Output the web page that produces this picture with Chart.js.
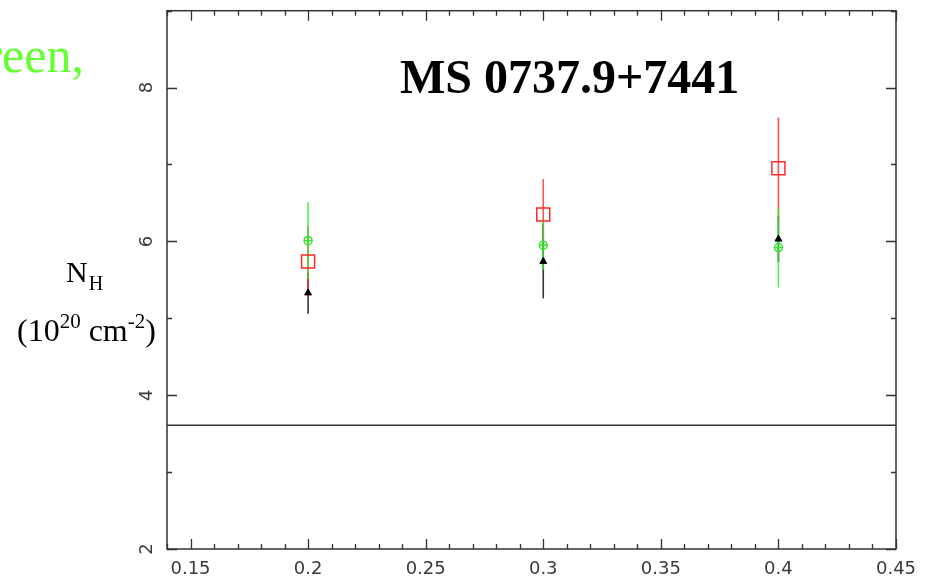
<!DOCTYPE html>
<html>
<head>
<meta charset="utf-8">
<script src="https://cdn.jsdelivr.net/npm/chart.js@4/dist/chart.umd.min.js"></script>
<style>
  html, body { margin: 0; padding: 0; background: #ffffff; }
  #wrap { width: 927px; height: 580px; position: relative; }
</style>
</head>
<body>
<div id="wrap"><canvas id="c" width="927" height="580"></canvas></div>
<script>
// Redshift bins and fitted column densities (10^20 cm^-2), with 1-sigma errors
const redshifts = [0.2, 0.3, 0.4];
const nhBlack = [5.33, 5.74, 6.03];
const errBlack = [0.27, 0.48, 0.30];
const nhRed = [5.74, 6.35, 6.95];
const errRed = [0.46, 0.46, 0.66];
const nhGreen = [6.01, 5.95, 5.92];
const errGreen = [0.50, 0.32, 0.52];
// Galactic column density along the line of sight
const galacticNH = 3.61;

// Axis ranges and tick labels
const xRange = [0.14, 0.45];
const yRange = [2, 9];
const xTickValues = [0.15, 0.2, 0.25, 0.3, 0.35, 0.4, 0.45];
const xTickLabels = ['0.15', '0.2', '0.25', '0.3', '0.35', '0.4', '0.45'];
const yTickValues = [2, 4, 6, 8];
const yTickLabels = ['2', '4', '6', '8'];
const xMinorStep = 0.01;
const yMinorStep = 1;

const titleText = 'MS 0737.9+7441';

const RED = 'rgb(255,40,40)';
const GREEN = 'rgb(40,235,40)';
const BLACK = '#000000';
const AXIS = '#333333';
const TICKCOLOR = '#3a3a3a';
const TICKFONT = '18px "DejaVu Sans"';

function pts(xs, ys) { return xs.map((x, i) => ({ x: x, y: ys[i] })); }

// Vertical error bars, drawn underneath the markers
const errorBars = {
  id: 'errorBars',
  beforeDatasetsDraw(chart) {
    const { ctx, scales: { x, y } } = chart;
    const sets = [
      [nhBlack, errBlack, 'rgba(0,0,0,0.8)'],
      [nhRed, errRed, 'rgba(255,40,40,0.8)'],
      [nhGreen, errGreen, 'rgba(40,235,40,0.8)']
    ];
    ctx.save();
    ctx.lineWidth = 1.6;
    sets.forEach(([vals, errs, col]) => {
      ctx.strokeStyle = col;
      redshifts.forEach((z, i) => {
        const px = x.getPixelForValue(z);
        ctx.beginPath();
        ctx.moveTo(px, y.getPixelForValue(vals[i] + errs[i]));
        ctx.lineTo(px, y.getPixelForValue(vals[i] - errs[i]));
        ctx.stroke();
      });
    });
    ctx.restore();
  }
};

// Box frame with inward ticks on all sides, y labels, title and annotations
const frame = {
  id: 'frame',
  afterDraw(chart) {
    const { ctx, chartArea: a, scales: { x, y } } = chart;
    ctx.save();
    ctx.strokeStyle = AXIS;
    ctx.lineWidth = 1.5;
    ctx.strokeRect(a.left, a.top, a.right - a.left, a.bottom - a.top);

    ctx.lineWidth = 1.3;
    ctx.beginPath();
    const nx = Math.round((xRange[1] - xRange[0]) / xMinorStep);
    for (let k = 0; k <= nx; k++) {
      const v = +(xRange[0] + k * xMinorStep).toFixed(4);
      const major = xTickValues.some(t => Math.abs(t - v) < 1e-6);
      const len = major ? 10 : 5;
      const px = Math.round(x.getPixelForValue(v)) + 0.5;
      ctx.moveTo(px, a.bottom); ctx.lineTo(px, a.bottom - len);
      ctx.moveTo(px, a.top); ctx.lineTo(px, a.top + len);
    }
    for (let v = yRange[0]; v <= yRange[1]; v += yMinorStep) {
      const major = yTickValues.includes(v);
      const len = major ? 10 : 5;
      const py = Math.round(y.getPixelForValue(v)) + 0.5;
      ctx.moveTo(a.left, py); ctx.lineTo(a.left + len, py);
      ctx.moveTo(a.right, py); ctx.lineTo(a.right - len, py);
    }
    ctx.stroke();

    // rotated y tick labels
    ctx.fillStyle = TICKCOLOR;
    ctx.font = TICKFONT;
    ctx.textAlign = 'center';
    ctx.textBaseline = 'middle';
    yTickValues.forEach((v, i) => {
      ctx.save();
      ctx.translate(a.left - 20, y.getPixelForValue(v));
      ctx.rotate(-Math.PI / 2);
      ctx.fillText(yTickLabels[i], 0, 0);
      ctx.restore();
    });

    // title
    ctx.fillStyle = '#000000';
    ctx.font = 'bold 48px "Liberation Serif"';
    ctx.textAlign = 'left';
    ctx.textBaseline = 'alphabetic';
    ctx.fillText(titleText, 400, 93);

    // axis label N_H (10^20 cm^-2)
    ctx.font = '30px "Liberation Serif"';
    ctx.fillText('N', 66, 282);
    const wN = ctx.measureText('N').width;
    ctx.font = '20px "Liberation Serif"';
    ctx.fillText('H', 66 + wN + 1, 290);

    let cx = 17;
    const base = 341;
    const seg = (txt, size, dy) => {
      ctx.font = size + 'px "Liberation Serif"';
      ctx.fillText(txt, cx, base + dy);
      cx += ctx.measureText(txt).width;
    };
    seg('(10', 32, 0);
    seg('20', 21, -13);
    seg(' cm', 32, 0);
    seg('-2', 21, -13);
    seg(')', 32, 0);

    // caption fragment at the top left
    ctx.fillStyle = 'rgb(102,255,51)';
    ctx.font = '50px "Liberation Serif"';
    ctx.textAlign = 'right';
    ctx.fillText('green,', 84, 72);
    ctx.restore();
  }
};

new Chart(document.getElementById('c'), {
  type: 'scatter',
  data: {
    datasets: [
      {
        label: 'black',
        data: pts(redshifts, nhBlack),
        pointStyle: 'triangle',
        pointRadius: 4,
        backgroundColor: BLACK,
        borderColor: BLACK,
        borderWidth: 1,
        order: 0
      },
      {
        label: 'green',
        data: pts(redshifts, nhGreen),
        pointStyle: 'circle',
        pointRadius: 4,
        backgroundColor: 'rgba(0,0,0,0)',
        borderColor: GREEN,
        borderWidth: 1.5,
        order: 1
      },
      {
        label: 'green bar',
        data: pts(redshifts, nhGreen),
        pointStyle: 'line',
        pointRadius: 4,
        borderColor: GREEN,
        borderWidth: 1.3,
        order: 1
      },
      {
        label: 'red',
        data: pts(redshifts, nhRed),
        pointStyle: 'rect',
        pointRadius: 9.2,
        backgroundColor: 'rgba(0,0,0,0)',
        borderColor: RED,
        borderWidth: 1.5,
        order: 2
      },
      {
        label: 'galactic',
        type: 'line',
        data: [{ x: xRange[0], y: galacticNH }, { x: xRange[1], y: galacticNH }],
        borderColor: AXIS,
        borderWidth: 1.5,
        pointRadius: 0,
        order: 3
      }
    ]
  },
  options: {
    responsive: false,
    animation: false,
    events: [],
    layout: { padding: { top: 7, right: 31, left: 0, bottom: 0 } },
    plugins: { legend: { display: false }, tooltip: { enabled: false } },
    scales: {
      x: {
        type: 'linear',
        min: xRange[0],
        max: xRange[1],
        border: { display: false },
        grid: { display: false, drawTicks: false },
        afterBuildTicks: s => { s.ticks = xTickValues.map(v => ({ value: v })); },
        afterFit: s => { s.height = 31; },
        ticks: {
          padding: 10,
          autoSkip: false,
          maxRotation: 0,
          color: TICKCOLOR,
          font: { family: 'DejaVu Sans', size: 18 },
          callback: (v) => {
            const i = xTickValues.findIndex(t => Math.abs(t - v) < 1e-6);
            return i >= 0 ? xTickLabels[i] : '';
          }
        }
      },
      y: {
        type: 'linear',
        min: yRange[0],
        max: yRange[1],
        border: { display: false },
        grid: { display: false, drawTicks: false },
        afterFit: s => { s.width = 167; },
        ticks: { display: false }
      }
    }
  },
  plugins: [errorBars, frame]
});
</script>
</body>
</html>
